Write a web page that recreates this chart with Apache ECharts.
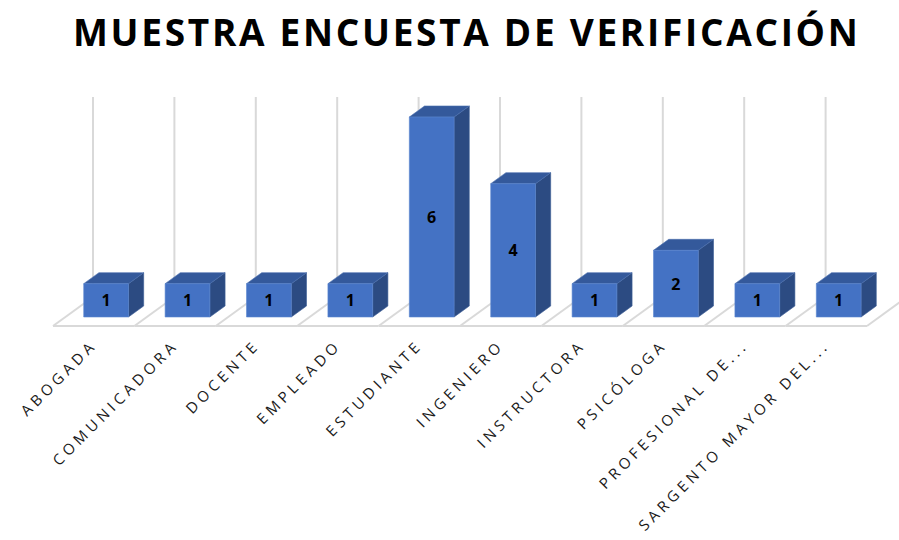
<!DOCTYPE html>
<html>
<head>
<meta charset="utf-8">
<script src="https://cdn.jsdelivr.net/npm/echarts@6/dist/echarts.min.js"></script>
<style>
    html, body { margin: 0; padding: 0; background: #fff; }
    #chart { width: 899px; height: 540px; }
    /* espaciado de letras como en Excel */
    #chart text[style*="37px"], #chart text[font-size="37"], #chart text[font-size="37px"] { letter-spacing: 2.7px; }
    #chart text[style*="15px"], #chart text[font-size="15"], #chart text[font-size="15px"] { letter-spacing: 4.1px; }
</style>
</head>
<body>
<div id="chart"></div>
<script>
// datos
const categories = ['ABOGADA', 'COMUNICADORA', 'DOCENTE', 'EMPLEADO', 'ESTUDIANTE',
    'INGENIERO', 'INSTRUCTORA', 'PSICÓLOGA', 'PROFESIONAL DE...', 'SARGENTO MAYOR DEL...'];
const counts = [1, 1, 1, 1, 6, 4, 1, 2, 1, 1];
const yMax = 6;

// geometria del piso (pixeles)
const DEPTH_X = 40, DEPTH_Y = -29;
const BAR_FRONT = 0.31, BAR_DEPTH = 0.38, BAR_WIDTH = 0.55;

const chart = echarts.init(document.getElementById('chart'), null, { renderer: 'svg' });

function renderFloor(params, api) {
    const i = api.value(0);
    const band = api.size([1, 0])[0];
    const p0 = api.coord([i, 0]);
    const top = api.coord([i, yMax]);
    const lineStyle = { stroke: '#d9d9d9', lineWidth: 2 };
    const children = [];
    const xs = [p0[0] - band / 2];
    if (i === categories.length - 1) xs.push(p0[0] + band / 2);
    xs.forEach(function (x) {
        children.push({ type: 'line', shape: { x1: x, y1: p0[1], x2: x + DEPTH_X, y2: p0[1] + DEPTH_Y }, style: lineStyle });
        children.push({ type: 'line', shape: { x1: x + DEPTH_X, y1: p0[1] + DEPTH_Y, x2: x + DEPTH_X, y2: top[1] + DEPTH_Y }, style: lineStyle });
    });
    children.push({ type: 'line', shape: { x1: p0[0] - band / 2, y1: p0[1], x2: p0[0] + band / 2, y2: p0[1] }, style: lineStyle });
    return { type: 'group', children: children };
}

function renderBar(params, api) {
    const i = api.value(0);
    const v = api.value(1);
    const band = api.size([1, 0])[0];
    const base = api.coord([i, 0]);
    const top = api.coord([i, v]);
    const w = band * BAR_WIDTH;
    const ox = DEPTH_X * BAR_FRONT, oy = DEPTH_Y * BAR_FRONT;
    const dx = DEPTH_X * BAR_DEPTH, dy = DEPTH_Y * BAR_DEPTH;
    const x0 = base[0] - w / 2 + ox, x1 = x0 + w;
    const yb = base[1] + oy, yt = top[1] + oy;
    return {
        type: 'group',
        children: [
            { type: 'polygon', shape: { points: [[x1, yt], [x1 + dx, yt + dy], [x1 + dx, yb + dy], [x1, yb]] },
              style: { fill: '#2c4b82', stroke: '#3a5c96', lineWidth: 0.6 } },
            { type: 'polygon', shape: { points: [[x0, yt], [x0 + dx, yt + dy], [x1 + dx, yt + dy], [x1, yt]] },
              style: { fill: '#34599b', stroke: '#4a6fae', lineWidth: 0.6 } },
            { type: 'rect', shape: { x: x0, y: yt, width: w, height: yb - yt },
              style: { fill: '#4472c4', stroke: '#5b86d0', lineWidth: 0.6 } },
            { type: 'text', x: (x0 + x1) / 2, y: (yt + yb) / 2,
              style: { text: String(v), fill: '#000', font: 'bold 16px "Open Sans"', align: 'center', verticalAlign: 'middle' } }
        ]
    };
}

chart.setOption({
    animation: false,
    title: {
        text: 'MUESTRA ENCUESTA DE VERIFICACIÓN',
        left: 68,
        top: 8,
        textStyle: { fontFamily: 'Open Sans', fontWeight: 'bold', fontSize: 37, color: '#000' }
    },
    grid: { left: 53, right: 32, top: 126, bottom: 214 },
    xAxis: {
        type: 'category',
        data: categories,
        axisLine: { show: false },
        axisTick: { show: false },
        axisLabel: {
            interval: 0, rotate: 45, margin: 16,
            fontFamily: 'Open Sans', fontSize: 15, color: '#1a1a1a'
        }
    },
    yAxis: { type: 'value', min: 0, max: yMax, show: false },
    series: [
        {
            type: 'custom',
            renderItem: renderFloor,
            data: categories.map(function (c, i) { return [i, 0]; }),
            silent: true
        },
        {
            type: 'custom',
            renderItem: renderBar,
            data: counts.map(function (v, i) { return [i, v]; }),
            z: 3
        }
    ]
});
</script>
</body>
</html>
